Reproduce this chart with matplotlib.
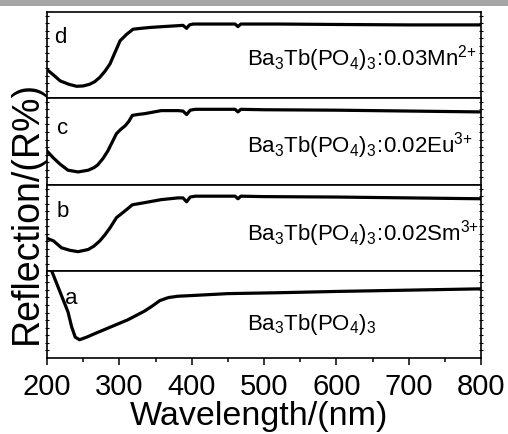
import matplotlib
matplotlib.use("Agg")
import matplotlib.pyplot as plt
from matplotlib.ticker import MultipleLocator
from matplotlib.patches import Rectangle

plt.rcParams['font.family'] = ['Liberation Sans', 'DejaVu Sans']
plt.rcParams['mathtext.fontset'] = 'custom'
plt.rcParams['mathtext.rm'] = 'Liberation Sans'

# ---- data ----
d_wl = [200, 210, 218, 230, 241, 250, 259, 266, 273, 280, 287, 294, 301, 310, 319, 330, 342, 360, 379, 388, 393, 397, 402, 420, 450, 460, 464, 468, 480, 520, 600, 700, 800]
d_r = [33, 26, 20, 16, 13.6, 14, 16, 19, 24, 31, 39.5, 53, 66.5, 74, 80, 81, 82, 83, 84, 84.5, 81, 85, 86, 86, 86, 86, 83, 86, 86, 86, 85.5, 85, 85]

c_wl = [200, 209, 218, 229, 243, 257, 265, 270, 277, 284, 290, 296, 302, 308, 313, 318, 325, 335, 358, 381, 388, 393, 398, 405, 450, 460, 464, 468, 500, 600, 700, 800]
c_r = [39, 31, 24, 17, 15, 17, 20, 23, 30, 39, 49, 59, 64, 68, 73, 80, 81, 82, 85.5, 85.5, 85, 81, 86, 87, 87, 87, 84, 87, 86.5, 86, 85, 84]

b_wl = [200, 209, 220, 232, 243, 257, 265, 273, 280, 287, 296, 302, 308, 318, 335, 358, 381, 388, 393, 398, 405, 450, 460, 464, 468, 500, 600, 700, 800]
b_r = [38, 35, 27, 24, 22.5, 25, 29, 35, 42, 50, 62, 66, 70, 77, 79.5, 83, 85, 85, 80.5, 86, 87, 87, 87, 84, 87, 86.5, 86, 85, 84]

a_wl = [200, 207, 218, 229, 234, 239, 245, 255, 266, 289, 312, 335, 346, 356, 368, 381, 405, 450, 519, 600, 700, 800]
a_r = [114, 99, 76, 53, 36, 24, 21, 24, 28, 36, 44, 54, 60, 66, 69.5, 71, 72, 74, 75, 76.5, 78, 79.5]

letters = ['d', 'c', 'b', 'a']
labels = [r'$\mathregular{Ba_3Tb(PO_4)_3\!:\!0.03Mn^{2{+}}}$',
          r'$\mathregular{Ba_3Tb(PO_4)_3\!:\!0.02Eu^{3{+}}}$',
          r'$\mathregular{Ba_3Tb(PO_4)_3\!:\!0.02Sm^{3{+}}}$',
          r'$\mathregular{Ba_3Tb(PO_4)_3}$']
series = [(d_wl, d_r), (c_wl, c_r), (b_wl, b_r), (a_wl, a_r)]
letter_y = [0.72, 0.66, 0.70, 0.70]
letter_x = [0.017, 0.022, 0.022, 0.042]
label_y = [0.395, 0.39, 0.37, 0.33]
xticks = [200, 300, 400, 500, 600, 700, 800]

W, H = 508, 435
fig = plt.figure(figsize=(W / 100, H / 100), dpi=100)
fig.patches.append(Rectangle((0, 1 - 7 / H), 1, 7 / H, transform=fig.transFigure,
                             facecolor='#a6a6a6', edgecolor='none', zorder=0))

left, right = 47 / W, 481 / W
edges = [13, 99, 186, 272, 359]
axes = []
for i in range(4):
    top_px, bot_px = edges[i], edges[i + 1]
    ax = fig.add_axes([left, 1 - bot_px / H, right - left, (bot_px - top_px) / H])
    wl, r = series[i]
    ax.plot(wl, r, color='black', lw=2.3, solid_joinstyle='round')
    ax.set_xlim(200, 800)
    ax.set_ylim(0, 100)
    ax.xaxis.set_major_locator(MultipleLocator(100))
    ax.xaxis.set_minor_locator(MultipleLocator(50))
    ax.yaxis.set_major_locator(MultipleLocator(100))
    ax.yaxis.set_minor_locator(MultipleLocator(100 / 11.5))
    ax.tick_params(axis='x', which='major', direction='out', length=5, width=1.1,
                   top=False, labelsize=21, pad=5)
    ax.tick_params(axis='x', which='minor', direction='out', length=3, width=1.1, top=False)
    ax.tick_params(axis='y', which='both', left=True, right=True, labelleft=False,
                   direction='inout', length=3, width=0.8)
    ax.tick_params(axis='y', which='major', length=0)
    for s in ax.spines.values():
        s.set_linewidth(1.2)
    if i < 3:
        ax.tick_params(axis='x', labelbottom=False)
    else:
        ax.set_xticks(xticks)
        ax.set_xticklabels([str(v) for v in xticks])
    ax.text(letter_x[i], letter_y[i], letters[i], transform=ax.transAxes,
            fontsize=16, ha='left', va='center')
    ax.text(0.46, label_y[i], labels[i], transform=ax.transAxes,
            fontsize=16, ha='left', va='baseline')
    axes.append(ax)

fig.text(259 / W, 1 - 425 / H, 'Wavelength/(nm)', fontsize=24.5,
         ha='center', va='baseline')
fig.text(27 / W, 1 - 212 / H, 'Reflection/(R%)', rotation=90, fontsize=27,
         ha='center', va='center')

fig.savefig('out.png', dpi=100)
